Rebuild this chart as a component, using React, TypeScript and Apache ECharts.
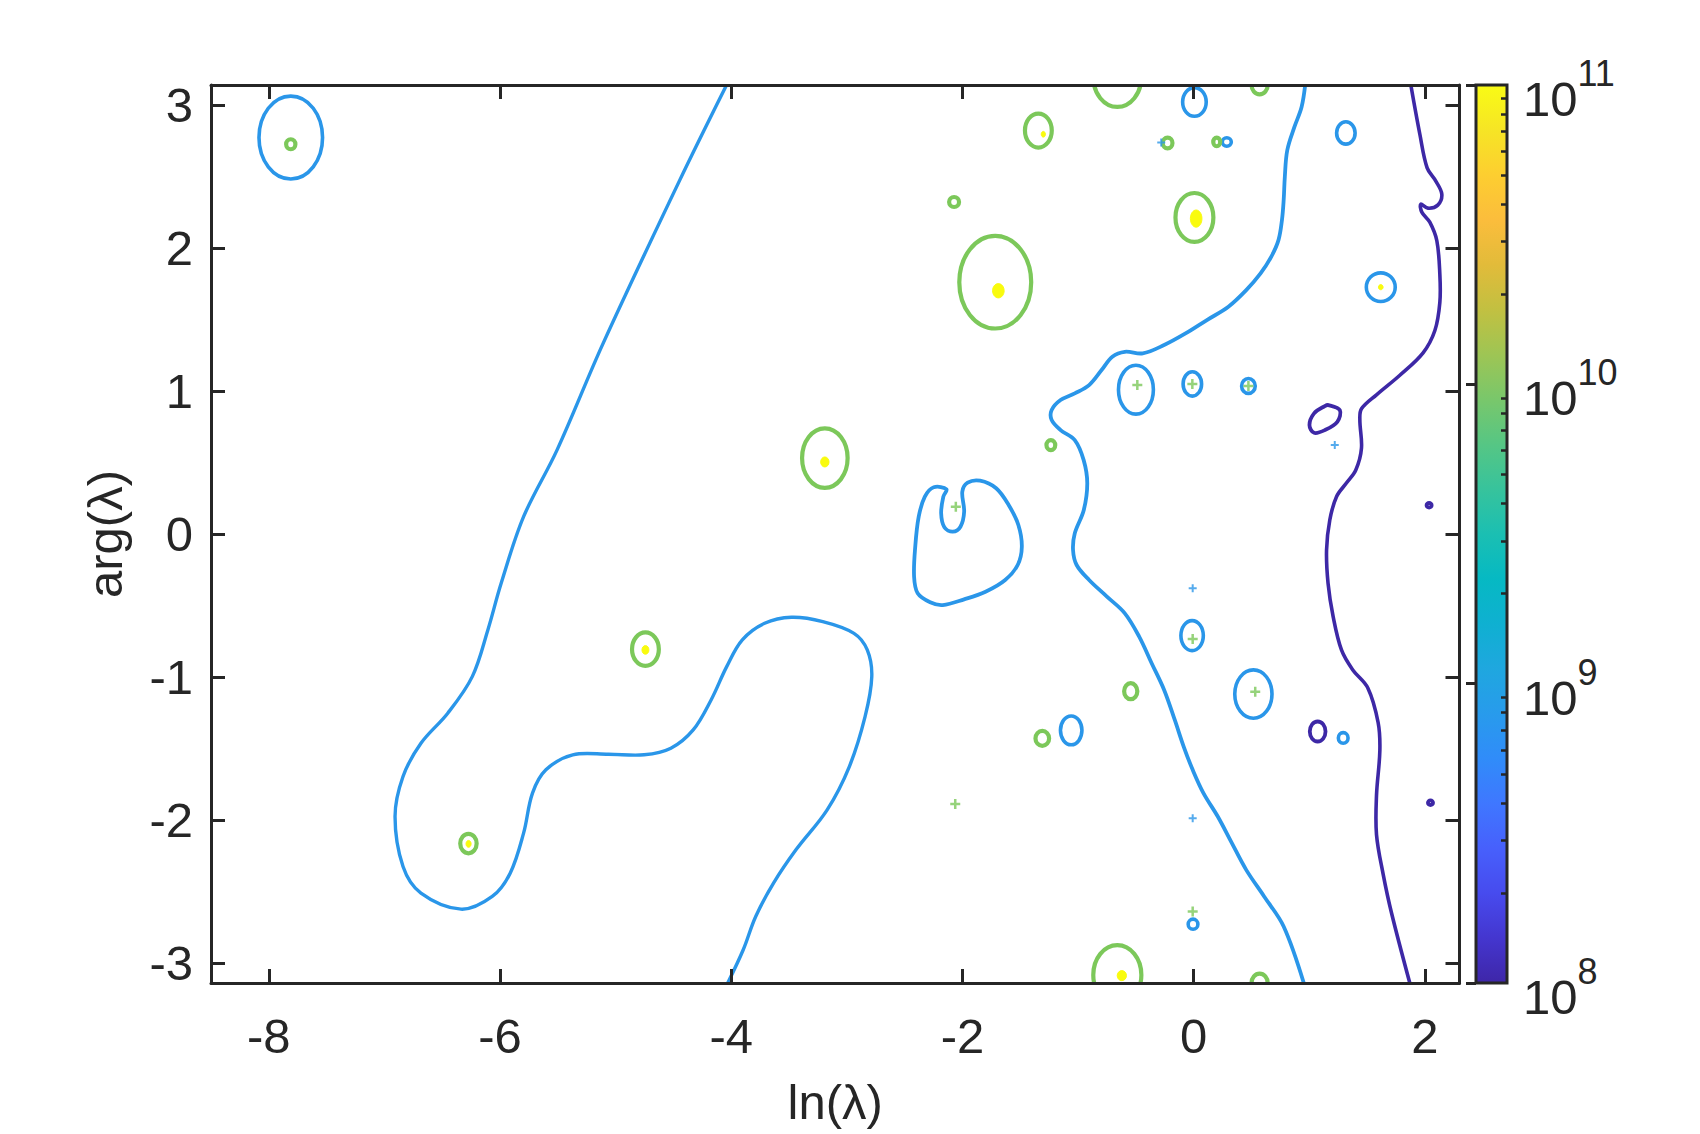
import React, { useEffect, useRef } from "react";
import * as echarts from "echarts";

const FONT = "'Liberation Sans', Arial, Helvetica, sans-serif";
const AXIS_COLOR = "#262626";
const C8 = "#3D28A6";
const C9 = "#2A96E9";
const C10 = "#7CC85A";
const C11 = "#F9FB0E";

// axes
const xRange = [-8.5, 2.3];
const yRange = [-Math.PI, Math.PI];
const xTicks = [-8, -6, -4, -2, 0, 2];
const yTicks = [-3, -2, -1, 0, 1, 2, 3];
const cbRange = [8, 11]; // log10 of colour limits
const cbTicks = [8, 9, 10, 11];
const cbMinorTicks: number[] = [];
for (let n = 8; n < 11; n++) for (let k = 2; k <= 9; k++) cbMinorTicks.push(n + Math.log10(k));

// parula colour map [value, colour]
const parulaStops: [number, string][] = [
  [0.0, "#3E26A8"], [0.05, "#4436CF"], [0.1, "#474BEE"], [0.15, "#4760FC"],
  [0.2, "#3F77FF"], [0.25, "#308CF9"], [0.3, "#289BEC"], [0.35, "#1FA7DF"],
  [0.4, "#0FB0D1"], [0.45, "#06B9C3"], [0.5, "#1BBFB2"], [0.55, "#37C39C"],
  [0.6, "#56C684"], [0.65, "#79C76B"], [0.7, "#9EC554"], [0.75, "#C2C041"],
  [0.8, "#E2BB3A"], [0.85, "#FBBD3C"], [0.9, "#FDCE30"], [0.95, "#F6E525"],
  [1.0, "#F9FB15"],
];

// level 1e9 open contour (left)
const curveA9 = [
  [-4.04, 3.1416], [-4.445, 2.476], [-5.108, 1.334], [-5.507, 0.587], [-5.796, 0.121],
  [-5.99, -0.345], [-6.105, -0.671], [-6.24, -0.998], [-6.452, -1.254], [-6.684, -1.464],
  [-6.839, -1.697], [-6.908, -1.977], [-6.839, -2.327], [-6.684, -2.513], [-6.337, -2.625],
  [-6.067, -2.536], [-5.912, -2.373], [-5.796, -2.093], [-5.719, -1.813], [-5.603, -1.65],
  [-5.371, -1.545], [-5.062, -1.541], [-4.753, -1.545], [-4.522, -1.499], [-4.329, -1.371],
  [-4.174, -1.161], [-4.039, -0.928], [-3.904, -0.741], [-3.711, -0.625], [-3.479, -0.583],
  [-3.208, -0.613], [-2.938, -0.695], [-2.823, -0.811], [-2.784, -0.998], [-2.842, -1.278],
  [-2.978, -1.627], [-3.17, -1.93], [-3.44, -2.21], [-3.634, -2.443], [-3.788, -2.676],
  [-3.896, -2.909], [-4.03, -3.1416],
];

// level 1e9 open contour (middle)
const curveC9 = [
  [0.965, 3.1416], [0.934, 2.988], [0.872, 2.848], [0.81, 2.685], [0.789, 2.499],
  [0.779, 2.336], [0.764, 2.196], [0.734, 2.056], [0.671, 1.939], [0.579, 1.823],
  [0.455, 1.706], [0.301, 1.59], [0.115, 1.497], [-0.07, 1.403], [-0.255, 1.322],
  [-0.44, 1.264], [-0.595, 1.275], [-0.703, 1.24], [-0.796, 1.147], [-0.904, 1.042],
  [-1.028, 0.984], [-1.151, 0.937], [-1.228, 0.867], [-1.228, 0.797], [-1.151, 0.727],
  [-1.028, 0.657], [-0.951, 0.517], [-0.92, 0.355], [-0.95, 0.168], [-1.028, 0.005],
  [-1.043, -0.112], [-1.012, -0.217], [-0.904, -0.322], [-0.75, -0.438], [-0.595, -0.555],
  [-0.471, -0.718], [-0.363, -0.904], [-0.255, -1.091], [-0.163, -1.301], [-0.086, -1.487],
  [-0.008, -1.65], [0.085, -1.813], [0.209, -1.977], [0.331, -2.163], [0.455, -2.35],
  [0.61, -2.536], [0.779, -2.746], [0.953, -3.1416],
];

// level 1e9 closed heart-shaped contour
const heart9 = [
  [-2.138, 0.313], [-2.248, 0.327], [-2.325, 0.261], [-2.378, 0.121], [-2.408, -0.089],
  [-2.418, -0.299], [-2.387, -0.415], [-2.279, -0.478], [-2.17, -0.497], [-1.985, -0.457],
  [-1.8, -0.404], [-1.63, -0.322], [-1.522, -0.217], [-1.486, -0.089], [-1.516, 0.063],
  [-1.6, 0.203], [-1.708, 0.32], [-1.847, 0.373], [-1.955, 0.359], [-2.001, 0.296],
  [-1.985, 0.156], [-2.017, 0.051], [-2.084, 0.016], [-2.156, 0.047], [-2.184, 0.145],
  [-2.165, 0.261],
];

// level 1e8 open contour (right)
const curveE8 = [
  [1.879, 3.1416], [1.957, 2.797], [2.02, 2.562], [2.095, 2.469], [2.147, 2.378],
  [2.112, 2.301], [2.026, 2.28], [1.965, 2.308], [1.974, 2.252], [2.043, 2.182],
  [2.104, 2.052], [2.13, 1.817], [2.13, 1.621], [2.087, 1.424], [1.985, 1.268],
  [1.784, 1.111], [1.582, 0.974], [1.452, 0.876], [1.438, 0.797], [1.452, 0.601],
  [1.403, 0.448], [1.32, 0.355], [1.236, 0.261], [1.178, 0.098], [1.15, -0.112],
  [1.163, -0.345], [1.207, -0.578], [1.279, -0.811], [1.377, -0.951], [1.507, -1.077],
  [1.596, -1.319], [1.611, -1.515], [1.582, -1.829], [1.582, -2.103], [1.639, -2.378],
  [1.712, -2.652], [1.87, -3.1416],
];

// level 1e8 tilted closed loop
const loop8 = [
  [1.166, 0.902], [1.265, 0.867], [1.243, 0.785], [1.135, 0.727],
  [1.042, 0.708], [1.002, 0.762], [1.042, 0.844], [1.135, 0.895],
];

// small closed contours: [centre ln, centre arg, half-width, half-height]
const rings9 = [
  [-7.81, 2.774, 0.275, 0.29], [0.007, 3.023, 0.102, 0.1], [0.287, 2.743, 0.039, 0.03],
  [1.317, 2.806, 0.08, 0.078], [1.619, 1.727, 0.125, 0.1], [-0.499, 1.01, 0.151, 0.171],
  [-0.011, 1.05, 0.08, 0.085], [0.474, 1.036, 0.059, 0.052], [-0.013, -0.711, 0.097, 0.105],
  [0.517, -1.12, 0.161, 0.169], [-1.059, -1.374, 0.093, 0.101], [-0.005, -2.73, 0.042, 0.035],
  [1.294, -1.427, 0.042, 0.037],
];
const rings10 = [
  [-1.716, 1.762, 0.311, 0.324], [-1.343, 2.823, 0.116, 0.119], [0.007, 2.215, 0.164, 0.171],
  [-3.19, 0.531, 0.197, 0.208], [-4.742, -0.806, 0.116, 0.117], [-6.273, -2.166, 0.071, 0.068],
  [-2.072, 2.323, 0.043, 0.035], [-1.235, 0.622, 0.038, 0.035], [-0.544, -1.1, 0.057, 0.056],
  [-1.309, -1.43, 0.059, 0.052], [-0.66, -3.086, 0.208, 0.209], [-0.66, 3.197, 0.208, 0.209],
  [0.571, 3.1416, 0.07, 0.065], [0.571, -3.1416, 0.07, 0.065], [-7.81, 2.727, 0.04, 0.035],
  [-0.225, 2.736, 0.042, 0.038], [0.2, 2.743, 0.03, 0.03],
];
const rings8 = [
  [1.073, -1.382, 0.068, 0.07], [2.037, 0.201, 0.022, 0.016], [2.049, -1.88, 0.022, 0.016],
];
const rings11 = [
  [-1.689, 1.702, 0.05, 0.05], [0.022, 2.207, 0.05, 0.06], [-3.19, 0.504, 0.036, 0.035],
  [-4.742, -0.811, 0.03, 0.03], [-6.272, -2.168, 0.022, 0.024], [-1.3, 2.797, 0.018, 0.02],
  [-0.621, -3.09, 0.04, 0.035], [1.619, 1.727, 0.02, 0.018],
];

// tiny contours (crosses)
const crosses10 = [
  [-2.057, 0.191], [-0.487, 1.042], [-0.011, 1.05], [0.474, 1.036],
  [-0.008, -0.734], [0.533, -1.103], [-2.062, -1.89], [-0.008, -2.641],
];
const crosses9 = [[-0.28, 2.74], [1.221, 0.622], [-0.008, -0.38], [-0.008, -1.988]];

const curves = [
  { pts: curveA9, closed: false, color: C9, width: 3.4 },
  { pts: curveC9, closed: false, color: C9, width: 3.8 },
  { pts: heart9, closed: true, color: C9, width: 3.8 },
  { pts: curveE8, closed: false, color: C8, width: 3.6 },
  { pts: loop8, closed: true, color: C8, width: 3.8 },
];

const PLUS = "path://M3,0H5V3H8V5H5V8H3V5H0V3H3Z";

function ringSeries(rings: number[][], color: string, width: number, filled: boolean) {
  return {
    type: "custom",
    xAxisIndex: 0,
    yAxisIndex: 0,
    clip: true,
    silent: true,
    z: 2,
    data: rings,
    encode: { x: 0, y: 1 },
    renderItem: (_p: any, api: any) => {
      const c = [api.value(0), api.value(1)];
      const pt = api.coord(c);
      const sz = api.size([api.value(2), api.value(3)], c);
      return {
        type: "ellipse",
        shape: { cx: pt[0], cy: pt[1], rx: sz[0], ry: sz[1] },
        style: filled
          ? { fill: color, stroke: color, lineWidth: 1 }
          : { fill: "none", stroke: color, lineWidth: width },
      };
    },
  };
}

function mainX(position: string, labels: boolean) {
  return {
    gridIndex: 0,
    type: "value",
    min: xRange[0],
    max: xRange[1],
    position,
    z: 10,
    axisLine: { show: true, onZero: false, lineStyle: { color: AXIS_COLOR, width: 3 } },
    axisTick: { show: true, inside: true, length: 14, customValues: xTicks, lineStyle: { color: AXIS_COLOR, width: 3 } },
    axisLabel: labels
      ? { show: true, customValues: xTicks, margin: 28, fontSize: 49, color: AXIS_COLOR, fontFamily: FONT }
      : { show: false },
    splitLine: { show: false },
    name: labels ? "ln(λ)" : "",
    nameLocation: "middle",
    nameGap: 94,
    nameTextStyle: { fontSize: 49, color: AXIS_COLOR, fontFamily: FONT },
  };
}

function mainY(position: string, labels: boolean) {
  return {
    gridIndex: 0,
    type: "value",
    min: yRange[0],
    max: yRange[1],
    position,
    z: 10,
    axisLine: { show: true, onZero: false, lineStyle: { color: AXIS_COLOR, width: 3 } },
    axisTick: { show: true, inside: true, length: 14, customValues: yTicks, lineStyle: { color: AXIS_COLOR, width: 3 } },
    axisLabel: labels
      ? { show: true, customValues: yTicks, margin: 18, fontSize: 49, color: AXIS_COLOR, fontFamily: FONT }
      : { show: false },
    splitLine: { show: false },
    name: labels ? "arg(λ)" : "",
    nameLocation: "middle",
    nameRotate: 90,
    nameGap: 82,
    nameTextStyle: { fontSize: 49, color: AXIS_COLOR, fontFamily: FONT },
  };
}

export default function App() {
  const ref = useRef<HTMLDivElement>(null);
  useEffect(() => {
    if (!ref.current) return;
    const chart = echarts.init(ref.current, undefined, { renderer: "svg" });
    const gradient = new echarts.graphic.LinearGradient(
      0, 0, 0, 1,
      parulaStops.map(([v, c]) => ({ offset: 1 - v, color: c })).reverse()
    );
    const option: any = {
      animation: false,
      backgroundColor: "#ffffff",
      grid: [
        { left: 211, top: 85, width: 1248.5, height: 898 },
        { left: 1476, top: 85, width: 31, height: 898 },
      ],
      xAxis: [
        mainX("bottom", true),
        mainX("top", false),
        { gridIndex: 1, type: "value", min: 0, max: 1, show: false },
      ],
      yAxis: [
        mainY("left", true),
        mainY("right", false),
        {
          gridIndex: 1,
          type: "value",
          min: cbRange[0],
          max: cbRange[1],
          position: "right",
          z: 10,
          axisLine: { show: false },
          axisTick: { show: true, inside: true, length: 10, customValues: cbTicks, lineStyle: { color: AXIS_COLOR, width: 3 } },
          axisLabel: {
            show: true,
            customValues: cbTicks,
            margin: 16,
            formatter: (v: number) => `{b|10}{s|${Math.round(v)}}`,
            rich: {
              b: { fontSize: 49, fontFamily: FONT, color: AXIS_COLOR, lineHeight: 77, verticalAlign: "bottom" },
              s: { fontSize: 36, fontFamily: FONT, color: AXIS_COLOR, lineHeight: 36, verticalAlign: "top", padding: [9, 0, 0, 0] },
            },
          },
          splitLine: { show: false },
        },
        {
          gridIndex: 1,
          type: "value",
          min: cbRange[0],
          max: cbRange[1],
          position: "right",
          z: 10,
          axisLine: { show: false },
          axisTick: { show: true, inside: true, length: 6, customValues: cbMinorTicks, lineStyle: { color: AXIS_COLOR, width: 2.5 } },
          axisLabel: { show: false },
          splitLine: { show: false },
        },
      ],
      series: [
        {
          type: "custom",
          xAxisIndex: 2,
          yAxisIndex: 2,
          silent: true,
          z: 1,
          data: [[0.5, 9.5]],
          encode: { x: 0, y: 1 },
          renderItem: (params: any) => {
            const cs = params.coordSys;
            return {
              type: "rect",
              shape: { x: cs.x, y: cs.y, width: cs.width, height: cs.height },
              style: { fill: gradient, stroke: AXIS_COLOR, lineWidth: 3 },
            };
          },
        },
        {
          type: "custom",
          xAxisIndex: 0,
          yAxisIndex: 0,
          clip: true,
          silent: true,
          z: 2,
          data: curves.map((c, i) => [c.pts[0][0], c.pts[0][1], i]),
          encode: { x: 0, y: 1 },
          renderItem: (_p: any, api: any) => {
            const c = curves[api.value(2)];
            const points = c.pts.map((p) => api.coord(p));
            return {
              type: c.closed ? "polygon" : "polyline",
              shape: { points, smooth: 0.35 },
              style: { fill: "none", stroke: c.color, lineWidth: c.width },
            };
          },
        },
        ringSeries(rings9, C9, 3.6, false),
        ringSeries(rings10, C10, 4.2, false),
        ringSeries(rings8, C8, 3.8, false),
        ringSeries(rings11, C11, 1, true),
        {
          type: "scatter",
          xAxisIndex: 0,
          yAxisIndex: 0,
          silent: true,
          symbol: PLUS,
          symbolSize: 10,
          itemStyle: { color: C10 },
          data: crosses10,
          z: 3,
        },
        {
          type: "scatter",
          xAxisIndex: 0,
          yAxisIndex: 0,
          silent: true,
          symbol: PLUS,
          symbolSize: 8,
          itemStyle: { color: C9 },
          data: crosses9,
          z: 3,
        },
      ],
    };
    chart.setOption(option);
    return () => chart.dispose();
  }, []);
  return (
    <div
      ref={ref}
      style={{ position: "fixed", left: 0, top: 0, width: 1700, height: 1134, background: "#fff" }}
    />
  );
}
